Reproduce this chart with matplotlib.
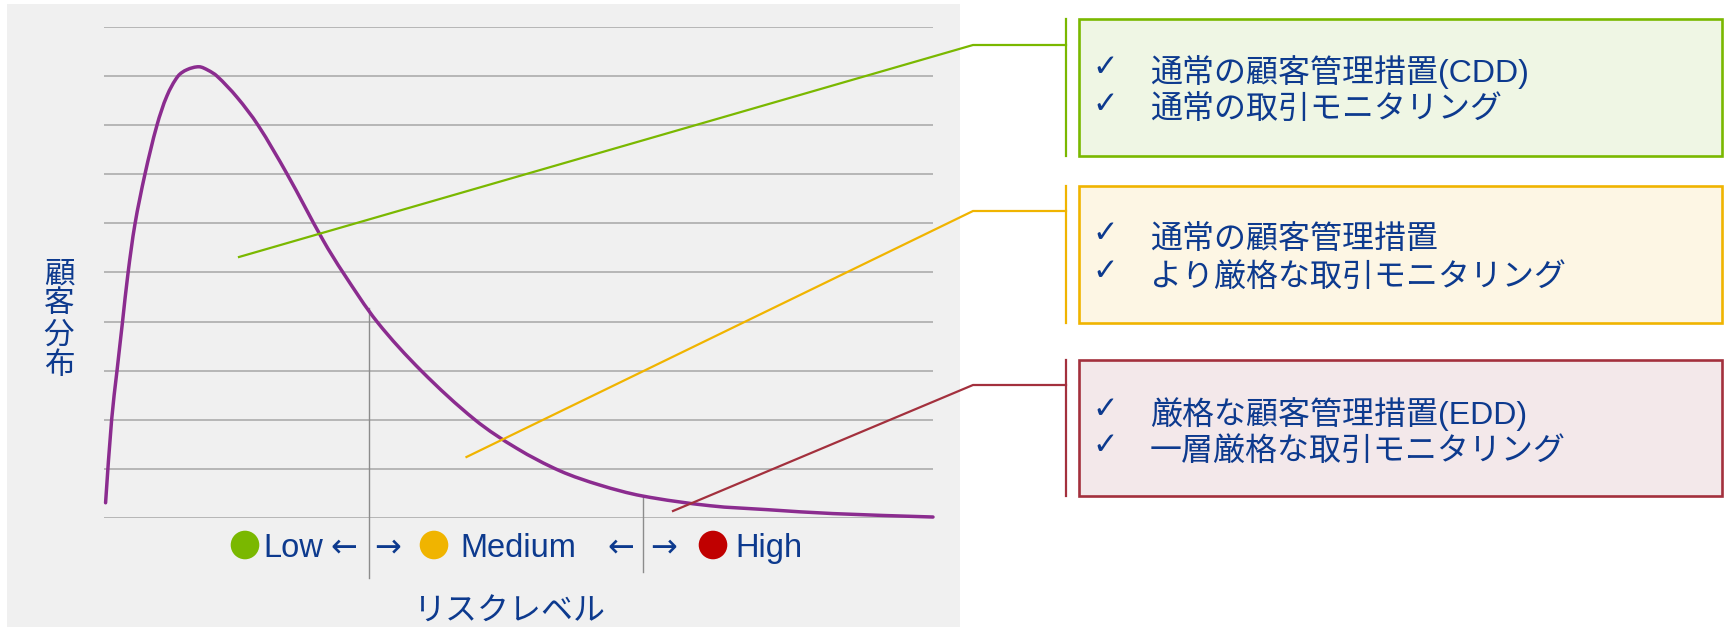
import matplotlib
matplotlib.use("Agg")
import numpy as np
import matplotlib.pyplot as plt
from matplotlib.patches import Rectangle, Circle, PathPatch
from matplotlib.path import Path

# ---------------- data ----------------
risk = [0.19, 0.92, 1.57, 2.23, 2.90, 3.74, 4.95, 6.39, 7.60, 8.93, 10.0, 11.46,
        12.55, 13.63, 16.04, 18.58, 22.07, 26.42, 28.87, 32.97, 38.32, 44.75,
        49.78, 55.0, 59.83, 64.9, 73.1, 80.0, 87.94, 100.0]
density = [0.31, 2.00, 3.00, 3.99, 4.99, 5.99, 7.01, 8.00, 8.60, 9.00, 9.13, 9.19,
           9.12, 9.00, 8.57, 8.00, 7.01, 5.66, 4.99, 3.99, 2.99, 2.00,
           1.42, 0.96, 0.67, 0.45, 0.25, 0.17, 0.09, 0.02]
grid_levels = list(range(0, 11))
level_names = ["Low", "Medium", "High"]
level_bounds = [32, 65]
y_label = "顧客分布"
x_label = "リスクレベル"
box_lines = [
    ["通常の顧客管理措置(CDD)", "通常の取引モニタリング"],
    ["通常の顧客管理措置", "より厳格な取引モニタリング"],
    ["厳格な顧客管理措置(EDD)", "一層厳格な取引モニタリング"],
]

# ---------------- style ----------------
W, H = 1725, 627
TXT = "#0d3a8e"
GREEN, YELLOW, RED = "#7ab800", "#f0b400", "#a3303d"
FILLS = ["#eff6e4", "#fdf6e4", "#f3e8ea"]
EDGES = [GREEN, YELLOW, RED]
DOTS = [GREEN, "#f0b400", "#c00000"]
LAT = ["Liberation Sans", "Noto Sans CJK JP", "DejaVu Sans"]
CJK = ["Noto Sans CJK JP", "DejaVu Sans"]


def smooth_path(xs, ys, sx, sy):
    """Chord-length Catmull-Rom through the points, as cubic Bezier segments."""
    P = np.column_stack([np.asarray(xs) * sx, np.asarray(ys) * sy])
    n = len(P)
    seg = np.linalg.norm(np.diff(P, axis=0), axis=1)
    T = np.zeros_like(P)
    for i in range(n):
        if i == 0:
            T[i] = (P[1] - P[0]) / seg[0]
        elif i == n - 1:
            T[i] = (P[-1] - P[-2]) / seg[-1]
        else:
            T[i] = (P[i + 1] - P[i - 1]) / (seg[i - 1] + seg[i])
    verts = [P[0]]
    codes = [Path.MOVETO]
    for i in range(n - 1):
        verts += [P[i] + T[i] * seg[i] / 3, P[i + 1] - T[i + 1] * seg[i] / 3, P[i + 1]]
        codes += [Path.CURVE4] * 3
    V = np.array(verts)
    V[:, 0] /= sx
    V[:, 1] /= sy
    return Path(V, codes)


fig = plt.figure(figsize=(W / 100, H / 100), dpi=100)

bg = fig.add_axes([0, 0, 1, 1], zorder=0)
bg.set_xlim(0, W); bg.set_ylim(H, 0); bg.axis("off")
bg.add_patch(Rectangle((7, 4), 953, 623, fc="#f0f0f0", ec="none"))

ax_px = (104, 27, 933, 518)
ax = fig.add_axes([ax_px[0] / W, (H - ax_px[3]) / H, (ax_px[2] - ax_px[0]) / W,
                   (ax_px[3] - ax_px[1]) / H], zorder=1)
ax.set_facecolor("none")
ax.set_xlim(0, 100); ax.set_ylim(0, 10)
for g in grid_levels:
    ax.axhline(g, color="#a6a6a6", lw=1.1, zorder=1)
sx = (ax_px[2] - ax_px[0]) / 100.0
sy = (ax_px[3] - ax_px[1]) / 10.0
ax.add_patch(PathPatch(smooth_path(risk, density, sx, sy), fc="none", ec="#8b2c8f",
                       lw=2.5, capstyle="round", joinstyle="round", zorder=3,
                       clip_on=False))
div_top = [4.28, 0.45]
div_bot = [-1.22, -1.10]
for b, t, bt in zip(level_bounds, div_top, div_bot):
    ax.plot([b, b], [t, bt], color="#8c8c8c", lw=1.0, clip_on=False, zorder=2)
for s in ax.spines.values():
    s.set_visible(False)
ax.set_xticks([]); ax.set_yticks([])

fg = fig.add_axes([0, 0, 1, 1], zorder=2)
fg.set_xlim(0, W); fg.set_ylim(H, 0); fg.axis("off")
fg.patch.set_alpha(0)

# connectors and boxes
starts = [(239, 257), (466.5, 457), (673, 511)]
elbow_y = [45, 211, 385]
box_y = [(19, 156), (186, 323), (360, 496)]
line_base = [(82, 119), (248, 286), (424, 460)]
for i in range(3):
    sxp, syp = starts[i]
    fg.plot([sxp, 973, 1066], [syp, elbow_y[i], elbow_y[i]], color=EDGES[i], lw=1.6,
            solid_joinstyle="miter")
    y0, y1 = box_y[i]
    fg.plot([1066, 1066], [y0, y1], color=EDGES[i], lw=1.6)
    fg.add_patch(Rectangle((1079, y0), 643, y1 - y0, fc=FILLS[i], ec=EDGES[i], lw=1.9))
    for ln, yb in zip(box_lines[i], line_base[i]):
        fg.text(1105, yb - 6, "✓", family=["DejaVu Sans"], fontsize=22, color=TXT,
                ha="center", va="baseline")
        fg.text(1150, yb, ln, family=LAT, fontsize=23, color=TXT, ha="left",
                va="baseline")

# level legend row
dot_x = [245, 434, 713]
name_x = [263, 460, 735]
for dx, nx, nm, c in zip(dot_x, name_x, level_names, DOTS):
    fg.add_patch(Circle((dx, 545), 14.3, fc=c, ec="none"))
    fg.text(nx, 557, nm, family=LAT, fontsize=23.5, color=TXT, ha="left", va="baseline")
for axx, ch in zip([344, 388, 621, 664], ["←", "→", "←", "→"]):
    fg.text(axx, 548, ch, family=["DejaVu Sans"], fontsize=23, color=TXT,
            ha="center", va="center")

# axis labels
fg.text(510, 612, x_label, family=CJK, fontsize=23, color=TXT, ha="center", va="center")
for ch, yy in zip(y_label, [274, 304, 335, 366]):
    fg.text(59, yy, ch, family=CJK, fontsize=22, color=TXT, ha="center", va="center")

fig.savefig("out.png", dpi=100)
